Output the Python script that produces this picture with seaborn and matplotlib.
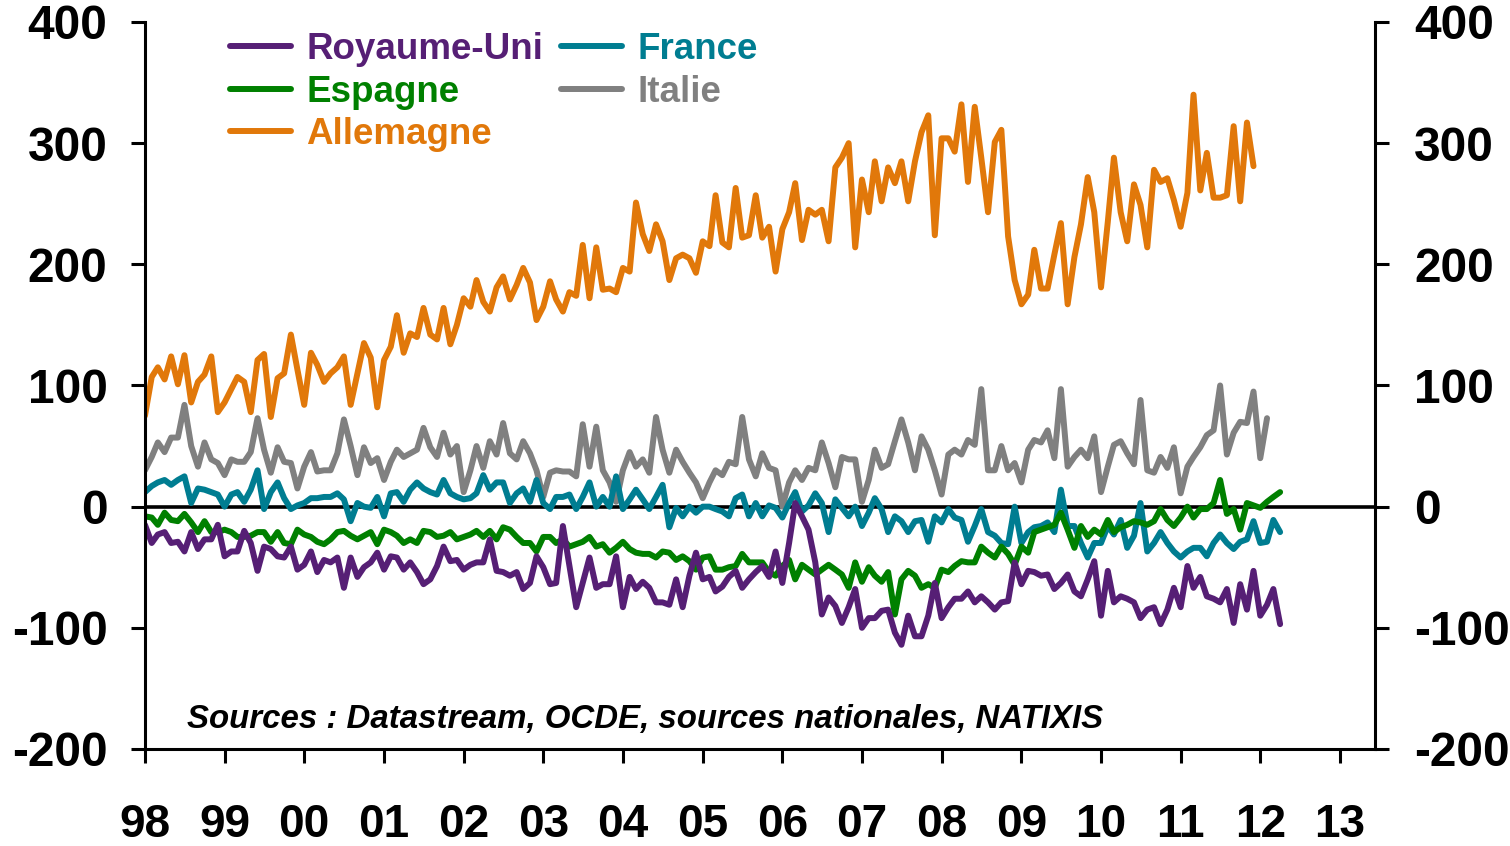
import matplotlib
matplotlib.use("Agg")
import matplotlib.pyplot as plt
import seaborn as sns
import pandas as pd

# Valeurs mensuelles (janvier 1998 -> 2012)
allemagne = [
    75, 107, 115, 105, 124, 101, 125, 86, 103, 109, 124, 78,
    86, 97, 107, 103, 78, 121, 126, 74, 106, 110, 142, 113,
    84, 127, 117, 103, 110, 115, 124, 84, 110, 135, 123, 82,
    121, 132, 158, 127, 143, 140, 164, 142, 138, 164, 134, 150,
    172, 165, 187, 169, 161, 181, 190, 171, 183, 197, 185, 154,
    165, 186, 171, 161, 177, 174, 216, 172, 214, 179, 180, 177,
    197, 194, 251, 225, 211, 233, 219, 187, 205, 208, 205, 193,
    219, 215, 257, 218, 214, 263, 222, 224, 257, 222, 231, 194,
    229, 243, 267, 220, 245, 241, 245, 219, 280, 288, 300, 214,
    270, 243, 285, 252, 280, 267, 285, 252, 285, 309, 323, 224,
    304, 304, 293, 332, 268, 330, 288, 243, 301, 311, 223, 187,
    167, 175, 212, 180, 180, 208, 234, 167, 206, 233, 272, 243,
    181, 235, 288, 243, 219, 266, 249, 214, 278, 268, 271, 253,
    231, 259, 340, 261, 292, 255, 255, 257, 314, 252, 317, 281,
]
italie = [
    30, 41, 53, 45, 57, 57, 84, 50, 33, 53, 39, 36,
    26, 39, 37, 37, 45, 73, 47, 28, 49, 37, 36, 15,
    33, 45, 29, 30, 30, 44, 72, 50, 26, 49, 36, 40,
    22, 37, 47, 41, 44, 47, 65, 49, 41, 61, 43, 50,
    12, 30, 50, 32, 54, 43, 69, 44, 39, 54, 44, 30,
    8, 28, 30, 29, 29, 25, 68, 33, 66, 30, 20, 4,
    30, 45, 33, 39, 28, 74, 47, 28, 47, 37, 28, 20,
    7, 20, 30, 26, 37, 35, 74, 39, 25, 44, 32, 30,
    0, 20, 30, 22, 32, 30, 53, 36, 16, 41, 39, 39,
    4, 22, 47, 32, 35, 54, 72, 53, 30, 58, 47, 30,
    10, 43, 47, 43, 55, 51, 97, 30, 30, 50, 30, 36,
    20, 47, 55, 53, 63, 40, 97, 33, 41, 47, 40, 58,
    12, 33, 51, 54, 44, 35, 88, 30, 28, 41, 32, 49,
    11, 33, 41, 49, 59, 63, 100, 43, 61, 70, 69, 95,
    40, 73,
]
france = [
    12, 17, 20, 22, 18, 22, 25, 3, 15, 14, 12, 10,
    0, 10, 12, 4, 14, 30, -2, 12, 20, 7, -2, 1,
    3, 7, 7, 8, 8, 11, 6, -12, 3, 0, -1, 8,
    -8, 11, 12, 4, 14, 20, 15, 12, 10, 22, 11, 8,
    6, 7, 11, 26, 14, 20, 20, 3, 11, 15, 4, 22,
    3, -2, 8, 8, 10, -2, 8, 20, 0, 8, 0, 25,
    -2, 6, 14, 6, -2, 8, 18, -17, -1, -8, 0, -5,
    0, 0, -2, -4, -8, 7, 10, -8, 3, -8, 1, -1,
    -9, 3, 12, -4, 1, 11, 3, -21, 6, -1, -8, 0,
    -16, -5, 7, -2, -21, -8, -12, -21, -12, -11, -29, -8,
    -13, -2, -9, -11, -29, -16, -2, -21, -24, -30, -31, 0,
    -30, -21, -17, -16, -13, -21, 14, -16, -16, -30, -42, -30,
    -30, -16, -23, -11, -34, -24, 3, -37, -30, -21, -30, -37,
    -42, -37, -34, -34, -41, -30, -23, -30, -35, -29, -27, -12,
    -30, -29, -11, -21,
]
espagne = [
    -8, -9, -15, -5, -11, -12, -6, -13, -21, -12, -21, -21,
    -19, -21, -25, -25, -24, -21, -21, -29, -21, -30, -31, -19,
    -23, -25, -29, -31, -27, -21, -20, -24, -27, -24, -21, -31,
    -19, -21, -24, -30, -27, -30, -20, -21, -25, -24, -21, -27,
    -25, -23, -20, -25, -20, -27, -17, -19, -25, -30, -30, -37,
    -25, -25, -30, -27, -33, -31, -29, -25, -33, -31, -38, -34,
    -29, -35, -38, -39, -39, -42, -37, -38, -44, -41, -45, -52,
    -42, -41, -52, -52, -50, -49, -39, -46, -46, -46, -54, -57,
    -49, -44, -60, -48, -52, -56, -52, -48, -52, -56, -67, -46,
    -62, -50, -57, -62, -54, -89, -60, -53, -57, -67, -64, -67,
    -52, -54, -49, -45, -46, -46, -33, -38, -42, -33, -39, -48,
    -33, -38, -21, -19, -17, -15, -5, -19, -34, -16, -25, -19,
    -23, -11, -21, -17, -15, -12, -13, -15, -12, -2, -11, -16,
    -9, 0, -9, -2, -2, 3, 22, -6, -2, -19, 3, 1,
    -1, 4, 8, 12,
]
royaume_uni = [
    -15, -30, -23, -21, -30, -29, -37, -21, -35, -27, -27, -15,
    -41, -37, -37, -20, -30, -53, -33, -35, -41, -42, -33, -52,
    -48, -37, -54, -44, -46, -42, -67, -42, -58, -50, -46, -38,
    -52, -41, -42, -52, -46, -54, -64, -60, -49, -33, -45, -44,
    -52, -48, -46, -46, -27, -53, -54, -57, -54, -68, -63, -41,
    -50, -64, -63, -16, -49, -83, -63, -42, -67, -64, -64, -41,
    -83, -58, -68, -62, -67, -79, -79, -81, -60, -83, -57, -38,
    -60, -58, -70, -66, -58, -53, -67, -60, -54, -49, -58, -37,
    -63, -30, 3, -8, -19, -46, -89, -75, -82, -96, -83, -68,
    -100, -92, -92, -86, -85, -104, -114, -90, -107, -107, -90, -63,
    -92, -83, -76, -76, -70, -79, -74, -79, -85, -79, -78, -46,
    -64, -53, -54, -57, -56, -68, -63, -56, -70, -74, -60, -45,
    -90, -53, -79, -74, -76, -79, -92, -85, -83, -97, -85, -67,
    -83, -49, -67, -58, -74, -76, -79, -68, -96, -64, -85, -53,
    -90, -81, -68, -97,
]

series = {
    "Royaume-Uni": royaume_uni,
    "Espagne": espagne,
    "Allemagne": allemagne,
    "France": france,
    "Italie": italie,
}
couleurs = {
    "Royaume-Uni": "#561F75",
    "Espagne": "#008000",
    "Allemagne": "#E1780A",
    "France": "#007D91",
    "Italie": "#808080",
}
y_ticks = [-200, -100, 0, 100, 200, 300, 400]
annees = list(range(1998, 2014))
x_labels = [str(a)[2:] for a in annees]

frames = []
for pays, valeurs in series.items():
    dates = pd.date_range("1998-01-01", periods=len(valeurs), freq="MS")
    frames.append(pd.DataFrame({"date": dates, "valeur": valeurs, "pays": pays}))
df = pd.concat(frames, ignore_index=True)

sns.set_style("white")
plt.rcParams["font.family"] = ["Liberation Sans", "DejaVu Sans"]
plt.rcParams["font.weight"] = "bold"
plt.rcParams["text.color"] = "black"
plt.rcParams["xtick.color"] = "black"
plt.rcParams["ytick.color"] = "black"
plt.rcParams["axes.labelcolor"] = "black"

fig = plt.figure(figsize=(15.1, 8.46), dpi=100)
ax = fig.add_axes([0.096, 0.1147, 0.8146, 0.8593])

# Allemagne dessinée en dernier pour rester au-dessus
ordre_trace = ["Italie", "France", "Espagne", "Royaume-Uni", "Allemagne"]
for pays in ordre_trace:
    sns.lineplot(data=df[df["pays"] == pays], x="date", y="valeur",
                 color=couleurs[pays], linewidth=4.3, ax=ax, label=pays,
                 legend=False)

ax.axhline(0, color="black", linewidth=2.6, zorder=1)

ax.set_ylim(-200, 400)
ax.set_xlim(pd.Timestamp("1998-01-01"), pd.Timestamp("2013-06-10"))
ax.set_yticks(y_ticks)
ax.set_yticklabels([str(v) for v in y_ticks])
tick_pos = [pd.Timestamp(f"{a}-01-01") for a in annees]
ax.set_xticks(tick_pos)
ax.set_xticklabels(x_labels)
ax.set_xlabel("")
ax.set_ylabel("")

for side in ["left", "right", "bottom"]:
    ax.spines[side].set_linewidth(2.2)
    ax.spines[side].set_color("black")
ax.spines["top"].set_visible(False)

ax.tick_params(axis="y", which="major", direction="out", length=10, width=2.2,
               labelsize=34.5, pad=17, left=True, right=False,
               labelleft=True, labelright=False, colors="black")
ax.tick_params(axis="x", which="major", direction="out", length=10, width=2.2,
               labelsize=33, pad=29, bottom=True, colors="black")

ax2 = ax.twinx()
ax2.set_ylim(ax.get_ylim())
ax2.set_yticks(y_ticks)
ax2.set_yticklabels([str(v) for v in y_ticks])
ax2.tick_params(axis="y", direction="out", length=10, width=2.2,
                labelsize=34.5, pad=18, colors="black")
for side in ["left", "right", "bottom", "top"]:
    ax2.spines[side].set_visible(False)

handles, labels = ax.get_legend_handles_labels()
ordre_legende = ["Royaume-Uni", "Espagne", "Allemagne", "France", "Italie"]
h = [handles[labels.index(p)] for p in ordre_legende]
leg = ax.legend(h, ordre_legende, loc="upper left",
                bbox_to_anchor=(0.069, 0.986), ncol=2, frameon=False,
                fontsize=26.5, handlelength=1.65, handletextpad=0.42,
                columnspacing=0.5, labelspacing=0.2, borderpad=0,
                borderaxespad=0, labelcolor="linecolor")

ax.text(0.034, 0.04, "Sources : Datastream, OCDE, sources nationales, NATIXIS",
        transform=ax.transAxes, fontsize=23.8, fontstyle="italic",
        fontweight="bold", va="center", ha="left", color="black")

fig.savefig("out.png", dpi=100)
